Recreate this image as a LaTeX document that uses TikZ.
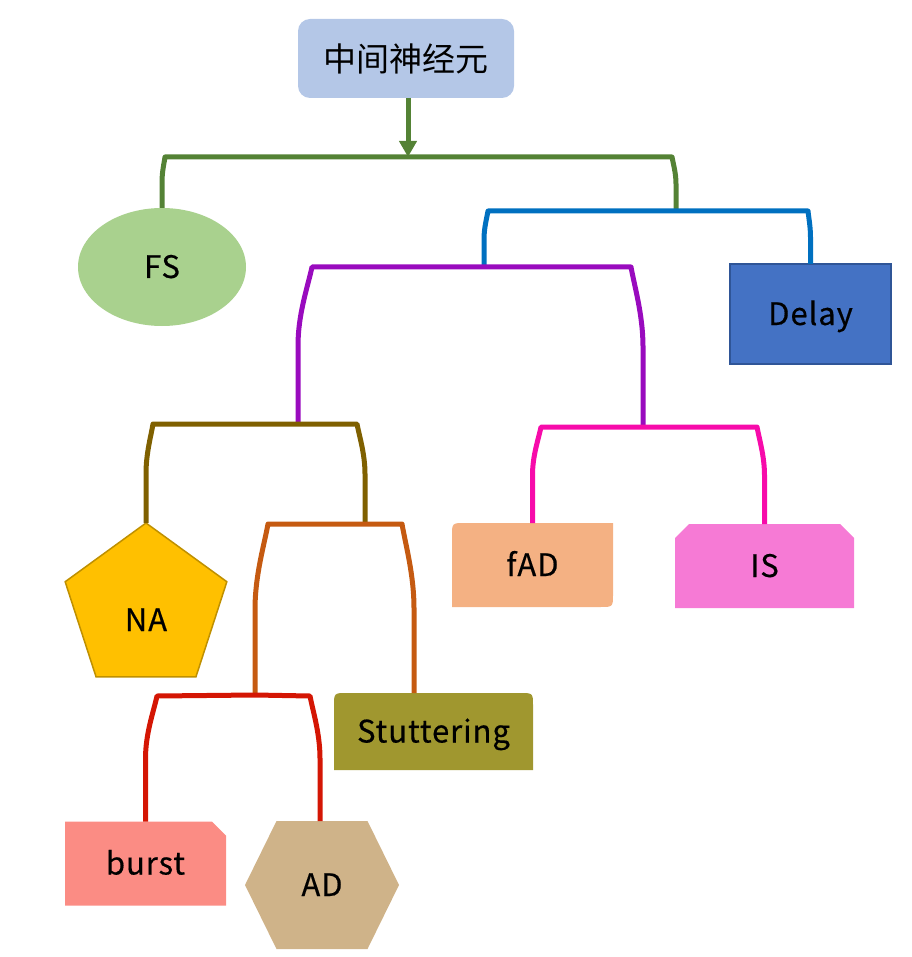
\documentclass[tikz,border=0pt]{standalone}
\usepackage{fontspec}
\newfontfamily\cjk{Noto Sans CJK SC}
\newfontfamily\lat[FakeBold=0.4,LetterSpace=3]{Noto Sans CJK SC}
\usetikzlibrary{shapes.geometric,arrows.meta}
\pgfdeclarelayer{bg}
\pgfsetlayers{bg,main}
\definecolor{rootc}{HTML}{B4C7E7}
\definecolor{greenc}{HTML}{548235}
\definecolor{fsc}{HTML}{A9D18E}
\definecolor{bluec}{HTML}{0070C0}
\definecolor{delayc}{HTML}{4472C4}
\definecolor{delayb}{HTML}{2F5597}
\definecolor{purplec}{HTML}{990BBE}
\definecolor{brownc}{HTML}{7F6000}
\definecolor{nac}{HTML}{FFC000}
\definecolor{nab}{HTML}{BF9000}
\definecolor{pinkc}{HTML}{F70BAA}
\definecolor{fadc}{HTML}{F4B183}
\definecolor{isc}{HTML}{F67AD5}
\definecolor{orangec}{HTML}{C55A11}
\definecolor{redc}{HTML}{D41604}
\definecolor{stutc}{HTML}{A0972F}
\definecolor{burstc}{HTML}{FB8C84}
\definecolor{adc}{HTML}{CFB389}
\begin{document}
\begin{tikzpicture}[x=1pt,y={(0pt,-1pt)},
  lbl/.style={font=\lat\fontsize{31}{37}\selectfont, inner sep=0pt, outer sep=0pt, text height=22pt, text depth=0pt},
  rootbox/.style={font=\cjk\fontsize{33}{39}\selectfont, inner sep=0pt, outer sep=0pt, fill=rootc, rounded corners=12pt},
  brk/.style={line width=5pt, line join=round}]
\useasboundingbox (0,0) rectangle (911,957);

% nodes
\node[rootbox, minimum width=216pt, minimum height=79pt] (root) at (406,58.5) {中间神经元};
\node[lbl, ellipse, fill=fsc, minimum width=168pt, minimum height=118pt] (fs) at (162,267) {FS};
\node[lbl, draw=delayb, line width=1.5pt, fill=delayc, minimum width=161pt, minimum height=100pt] (delay) at (810.5,314) {Delay};
\node[regular polygon, regular polygon sides=5, minimum size=170pt, inner sep=0pt, outer sep=0pt,
      fill=nac, draw=nab, line width=1.5pt, label={[lbl, yshift=-12pt]center:NA}] (na) at (146,608) {};
\node[lbl, minimum width=161pt, minimum height=84pt] (fad) at (532.5,565) {fAD};
\node[lbl, minimum width=179pt, minimum height=84pt] (is) at (764.5,566) {IS};
\node[lbl, minimum width=199pt, minimum height=77pt] (stut) at (433.5,731.5) {Stuttering};
\node[lbl, minimum width=161pt, minimum height=84pt] (burst) at (145.5,863.5) {burst};
\node[lbl, minimum width=154pt, minimum height=128pt] (ad) at (322,885) {AD};

% background shapes
\begin{pgfonlayer}{bg}
\fill[fadc] (fad.south west) -- ([yshift=-13pt]fad.north west) .. controls (fad.north west) .. ([xshift=13pt]fad.north west)
  -- (fad.north east) -- ([yshift=13pt]fad.south east) .. controls (fad.south east) .. ([xshift=-13pt]fad.south east) -- cycle;
\fill[isc] (is.south west) -- ([yshift=-14pt]is.north west) -- ([xshift=14pt]is.north west)
  -- ([xshift=-14pt]is.north east) -- ([yshift=-14pt]is.north east) -- (is.south east) -- cycle;
\fill[stutc] (stut.south west) -- ([yshift=-13pt]stut.north west) .. controls (stut.north west) .. ([xshift=13pt]stut.north west)
  -- ([xshift=-13pt]stut.north east) .. controls (stut.north east) .. ([yshift=-13pt]stut.north east) -- (stut.south east) -- cycle;
\fill[burstc] (burst.south west) -- (burst.north west) -- ([xshift=-14pt]burst.north east)
  -- ([yshift=-14pt]burst.north east) -- (burst.south east) -- cycle;
\fill[adc] (ad.west) -- ([xshift=31.5pt]ad.north west) -- ([xshift=-31.5pt]ad.north east) -- (ad.east)
  -- ([xshift=-31.5pt]ad.south east) -- ([xshift=31.5pt]ad.south west) -- cycle;
\end{pgfonlayer}

% junctions
\coordinate (g0) at (408,157);
\coordinate (b0) at (676,211);
\coordinate (p0) at (484,267);
\coordinate (n0) at (298,424);
\coordinate (k0) at (643,427);
\coordinate (o0) at (365,524);
\coordinate (r0) at (255,695);

% connectors
\draw[line width=5pt, greenc, -{Triangle[width=17pt,length=16pt]}] (root.south -| g0) -- (g0);
\draw[brk, greenc] (fs.north) -- (162,182) .. controls (162,172) and (164.1,163.2) .. (165,157) -- (g0)
  -- (672,157) .. controls (673.2,163.7) and (676,173) .. (676,184) -- (b0);
\draw[brk, bluec] (p0) -- (484,239) .. controls (484,228) and (486.8,218) .. (488,211) -- (b0)
  -- (808,211) .. controls (808.7,217.6) and (810.5,227) .. (810.5,237.5) -- (delay.north);
\draw[brk, purplec] (n0) -- (298,345.5) .. controls (298,314) and (307.8,286.6) .. (312,267) -- (p0)
  -- (631,267) .. controls (634.6,287) and (643,315) .. (643,347) -- (k0);
\draw[brk, brownc] (na.north) -- (146,473.5) .. controls (146,453.7) and (150.9,436.4) .. (153,424) -- (n0)
  -- (357,424) .. controls (359.4,436.5) and (365,454) .. (365,474) -- (o0);
\draw[brk, pinkc] (fad.north) -- (532.5,475) .. controls (532.5,455.8) and (538.5,439) .. (541,427) -- (k0)
  -- (757,427) .. controls (759.2,439) and (764.5,456) .. (764.5,475.5) -- (is.north);
\draw[brk, orangec] (r0) -- (255,609.5) .. controls (255,575.3) and (264.1,545.4) .. (268,524) -- (o0)
  -- (402,524) .. controls (405.6,545) and (414,574.7) .. (414,608.5) -- (stut.north -| 414,0);
\draw[brk, redc] (burst.north) -- (145.5,758.5) .. controls (145.5,733.5) and (153.6,711.6) .. (157,696) -- (r0)
  -- (310,696) .. controls (313,711.6) and (320,733.5) .. (320,758.5) -- (ad.north -| 320,0);
\end{tikzpicture}
\end{document}
